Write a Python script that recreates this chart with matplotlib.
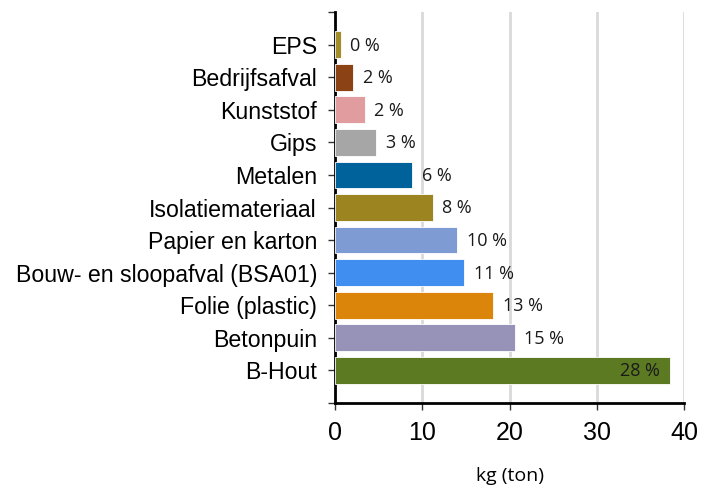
import matplotlib
matplotlib.use("Agg")
import matplotlib.pyplot as plt

categories = ["EPS", "Bedrijfsafval", "Kunststof", "Gips", "Metalen", "Isolatiemateriaal",
              "Papier en karton", "Bouw- en sloopafval (BSA01)", "Folie (plastic)", "Betonpuin", "B-Hout"]
values = [0.65, 2.1, 3.4, 4.75, 8.85, 11.2, 14.0, 14.8, 18.1, 20.6, 38.35]
pct_labels = ["0 %", "2 %", "2 %", "3 %", "6 %", "8 %", "10 %", "11 %", "13 %", "15 %", "28 %"]
colors = ["#a38c2a", "#8b4214", "#e09c9e", "#a6a6a6", "#00629b", "#9c8421",
          "#7f9bd3", "#3f8ef0", "#db850b", "#9792b7", "#5c7a22"]
x_ticks = [0, 10, 20, 30, 40]

fig = plt.figure(figsize=(7.08, 4.94), dpi=100)
ax = fig.add_axes([335/708, 1-403/494, (684-335)/708, (403-12)/494])

ypos = list(range(len(categories)))
ax.barh(ypos, values, height=0.82, color=colors, edgecolor="white", linewidth=0.6, zorder=3)

for y, v, lab in zip(ypos, values, pct_labels):
    if v > 30:
        ax.text(v - 1.1, y + 0.03, lab, ha="right", va="center", fontsize=13, family="Open Sans", color="#1a1a1a", zorder=4)
    else:
        ax.text(v + 1.1, y + 0.03, lab, ha="left", va="center", fontsize=13, family="Open Sans", color="#1a1a1a", zorder=4)

ax.set_xlim(0, 40)
ax.set_ylim(11, -1)
ax.set_yticks([-1] + ypos + [11])
ax.set_yticklabels([""] + categories + [""], fontsize=16.7, family="Liberation Sans")
ax.set_xticks(x_ticks)
ax.set_xticklabels([str(t) for t in x_ticks], fontsize=18, family="Liberation Sans")
ax.tick_params(axis="both", length=5, width=1, color="#333333")
ax.tick_params(axis="x", pad=8)
ax.tick_params(axis="y", pad=8)

ax.grid(axis="x", color="#d9d9d9", linewidth=2, zorder=0)
ax.set_axisbelow(True)
for s in ["top", "right"]:
    ax.spines[s].set_visible(False)
for s in ["left", "bottom"]:
    ax.spines[s].set_linewidth(2)
    ax.spines[s].set_color("black")

ax.set_xlabel("kg (ton)", fontsize=14, family="Open Sans", labelpad=16)

fig.savefig("out.png", dpi=100)
